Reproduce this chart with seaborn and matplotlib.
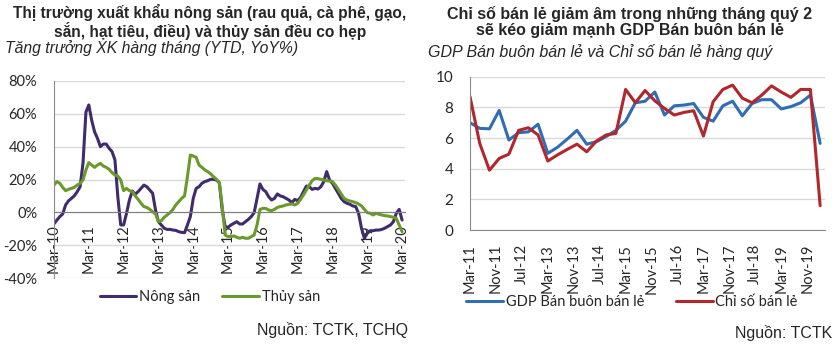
import numpy as np
import pandas as pd
import matplotlib
matplotlib.use("Agg")
import matplotlib.pyplot as plt
import seaborn as sns
from matplotlib.lines import Line2D

# ---------------- Data: left chart (monthly, Mar-10 .. Mar-20) ----------------
left_tick_labels = ["Mar-10", "Mar-11", "Mar-12", "Mar-13", "Mar-14", "Mar-15",
                    "Mar-16", "Mar-17", "Mar-18", "Mar-19", "Mar-20"]
nong_san = [
    -7, -4.7, -2.6, -1, 4.5, 7, 8.5, 10, 12.6, 15.6, 30, 61,          # Mar-10 .. Feb-11
    65.4, 56, 49, 45, 40, 41.6, 41.6, 39, 37, 32, 9.5, -7.7,          # Mar-11 .. Feb-12
    -7.7, -0.6, 7.5, 13, 11, 12.6, 14.6, 16.6, 15.6, 13.6, 11.6, 1.4, # Mar-12 .. Feb-13
    -5.7, -7.7, -9.7, -10.4, -10.4, -10.8, -11, -11.8, -12.2, -12.4, -7.7, -2.6,  # Mar-13 .. Feb-14
    8.5, 14.6, 15.6, 17.7, 18.7, 19.3, 20.1, 20.1, 19.7, 18, 1.4, -8.7,           # Mar-14 .. Feb-15
    -9.1, -7.7, -6.7, -5.7, -7.1, -7.1, -5.7, -4.3, -2.6, -0.2, 8.5, 17.3,        # Mar-15 .. Feb-16
    14, 12.6, 9.5, 7.5, 8.5, 11.2, 10, 9.5, 8.5, 7.5, 5.9, 7.9,                   # Mar-16 .. Feb-17
    7.1, 9.1, 12.6, 16, 15.6, 14, 14.6, 14.2, 15.6, 18.7, 24.8, 19.7,             # Mar-17 .. Feb-18
    17.7, 14.6, 11.6, 8.5, 6.5, 5.5, 4.9, 3.9, 3.5, -0.6, -9.7, -15.8,            # Mar-18 .. Feb-19
    -12.8, -11.2, -11.2, -10.8, -10.8, -10.4, -9.7, -8.7, -7.7, -5.7, -0.6, 1.8,  # Mar-19 .. Feb-20
    -4.7,                                                                          # Mar-20
]
thuy_san = [
    16.6, 18.7, 17.7, 15.2, 13.2, 14, 14.6, 15.2, 16.6, 17.7, 19.7, 25.8,
    30.3, 28.8, 27.4, 28.8, 29.8, 28.2, 27.4, 26.2, 24.2, 22.7, 22.1, 19.7,
    13.2, 14.6, 13.2, 12.6, 10, 7.9, 5.5, 3.5, 3, 1.8, 0.4, -1,
    -5.7, -5.1, -3, -1.6, -0.2, 1.8, 4.5, 6.5, 8.5, 10, 21.7, 34.9,
    34.3, 33.5, 28.8, 27.4, 25.8, 24.8, 23.4, 21.7, 20.1, 18, 3.5, -13.8,
    -14.8, -14.8, -14.4, -15.2, -15.8, -15.2, -15.8, -15.8, -14.8, -13.8, -7.7, 1.8,
    2.4, 2.4, 1.4, 1, 1.8, 3, 3.5, 3.9, 4.5, 4.9, 5.1, 4.5,
    5.5, 7.9, 10.6, 13.6, 16.6, 19.3, 20.7, 20.5, 20.1, 19.7, 19.3, 19.1,
    18.7, 16.6, 14, 11.2, 8.5, 7.5, 6.9, 6.5, 5.9, 5.1, 3.9, 1.8,
    -0.2, -0.6, -1.6, -0.6, -1.2, -1.6, -2, -2.2, -2.6, -3, -3.7, -7.7,
    -11.8,
]
left_series = ["Nông sản", "Thủy sản"]
left_yticks = [-40, -20, 0, 20, 40, 60, 80]

# ---------------- Data: right chart (quarterly, Mar-11 .. Mar-20) ----------------
right_tick_labels = ["Mar-11", "Nov-11", "Jul-12", "Mar-13", "Nov-13", "Jul-14", "Mar-15",
                     "Nov-15", "Jul-16", "Mar-17", "Nov-17", "Jul-18", "Mar-19", "Nov-19"]
gdp_ban_buon = [7.0, 6.63, 6.6, 7.8, 5.87, 6.35, 6.4, 6.9, 5.0, 5.4, 5.93, 6.5, 5.6,
                5.76, 6.1, 6.5, 7.1, 8.3, 8.4, 9.0, 7.5, 8.1, 8.15, 8.25, 7.35,
                7.1, 8.1, 8.4, 7.45, 8.25, 8.5, 8.5, 7.9, 8.05, 8.3, 8.8, 5.65]
chi_so_ban_le = [8.7, 5.65, 3.9, 4.67, 4.95, 6.5, 6.67, 6.2, 4.5, 4.9, 5.26, 5.6, 5.1,
                 5.8, 6.2, 6.3, 9.17, 8.3, 9.1, 8.43, 7.93, 7.5, 7.67, 7.78, 6.13,
                 8.37, 9.17, 9.45, 8.6, 8.3, 8.8, 9.4, 9.0, 8.65, 9.17, 9.17, 1.59]
right_series = ["GDP Bán buôn bán lẻ", "Chỉ số bán lẻ"]
right_yticks = [0, 2, 4, 6, 8, 10]

# ---------------- Styling ----------------
sns.set_style("white")
plt.rcParams["font.family"] = ["Liberation Sans", "DejaVu Sans"]
tick_font = ["Lato", "DejaVu Sans"]
grid_col = "#D9D9D9"
axis_col = "#8C8C8C"

left_palette = {"Nông sản": "#3F2B6E", "Thủy sản": "#6A9A2B"}
right_palette = {"GDP Bán buôn bán lẻ": "#2F6DB5", "Chỉ số bán lẻ": "#B3262B"}

df_left = pd.DataFrame({
    "month": list(range(len(nong_san))) + list(range(len(thuy_san))),
    "value": nong_san + thuy_san,
    "series": [left_series[0]] * len(nong_san) + [left_series[1]] * len(thuy_san),
})
df_right = pd.DataFrame({
    "month": [3 * i for i in range(len(gdp_ban_buon))] + [3 * i for i in range(len(chi_so_ban_le))],
    "value": gdp_ban_buon + chi_so_ban_le,
    "series": [right_series[0]] * len(gdp_ban_buon) + [right_series[1]] * len(chi_so_ban_le),
})

fig = plt.figure(figsize=(8.4, 3.5), dpi=100)
fig.patch.set_facecolor("white")

# ---------- Left axes ----------
axL = fig.add_axes([54 / 840, 1 - 278 / 350, (405 - 54) / 840, (278 - 81) / 350])
sns.lineplot(data=df_left, x="month", y="value", hue="series", palette=left_palette,
             hue_order=left_series, linewidth=2.2, ax=axL, legend=False)
for s in ["top", "right"]:
    axL.spines[s].set_visible(False)
axL.spines["bottom"].set_position(("data", 0))
axL.spines["bottom"].set_color("#7F7F7F")
axL.spines["left"].set_color(axis_col)
axL.set_xlim(0, 121)
axL.set_ylim(-40, 80)
axL.set_yticks(left_yticks)
axL.set_yticklabels([f"{v}%" for v in left_yticks], fontsize=10.5, family=tick_font)
axL.set_xticks([12 * i for i in range(len(left_tick_labels))])
axL.set_xticklabels(left_tick_labels, rotation=90, fontsize=10.5, family=tick_font)
axL.set_xlabel("")
axL.set_ylabel("")
axL.grid(axis="y", color=grid_col, linewidth=1)
axL.set_axisbelow(True)
axL.tick_params(axis="x", direction="inout", length=5, color="#7F7F7F", pad=6)
axL.tick_params(axis="y", direction="out", length=4, color=axis_col, pad=8)

# ---------- Right axes ----------
axR = fig.add_axes([470 / 840, 1 - 230 / 350, (825 - 470) / 840, (230 - 76.7) / 350])
sns.lineplot(data=df_right, x="month", y="value", hue="series", palette=right_palette,
             hue_order=right_series, linewidth=2.2, ax=axR, legend=False)
for s in ["top", "right"]:
    axR.spines[s].set_visible(False)
axR.spines["bottom"].set_color(axis_col)
axR.spines["left"].set_color(axis_col)
axR.set_xlim(0, 109.5)
axR.set_ylim(0, 10)
axR.set_yticks(right_yticks)
axR.set_yticklabels([str(v) for v in right_yticks], fontsize=11, family=tick_font)
axR.set_xticks([8 * i for i in range(len(right_tick_labels))])
axR.set_xticklabels(right_tick_labels, rotation=90, fontsize=10.5, family=tick_font)
axR.set_xlabel("")
axR.set_ylabel("")
axR.grid(axis="y", color=grid_col, linewidth=1)
axR.set_axisbelow(True)
axR.tick_params(axis="x", direction="out", length=5, color=axis_col, pad=5)
axR.tick_params(axis="y", direction="out", length=4, color=axis_col, pad=8)

# ---------- Titles ----------
fig.text(210 / 840, 1 - 4 / 350,
         "Thị trường xuất khẩu nông sản (rau quả, cà phê, gạo,\nsắn, hạt tiêu, điều) và thủy sản đều co hẹp",
         ha="center", va="top", fontsize=11.2, fontweight="bold", linespacing=1.1)
fig.text(5 / 840, 1 - 48 / 350, "Tăng trưởng XK hàng tháng (YTD, YoY%)",
         ha="left", va="center", fontsize=11.3, style="italic")
fig.text(630 / 840, 1 - 6 / 350,
         "Chỉ số bán lẻ giảm âm trong những tháng quý 2\nsẽ kéo giảm mạnh GDP Bán buôn bán lẻ",
         ha="center", va="top", fontsize=11.5, fontweight="bold", linespacing=1.1)
fig.text(428 / 840, 1 - 52 / 350, "GDP Bán buôn bán lẻ và Chỉ số bán lẻ hàng quý",
         ha="left", va="center", fontsize=11.5, style="italic")

# ---------- Legends ----------
hL = [Line2D([0], [0], color=left_palette[s], lw=2.2) for s in left_series]
fig.legend(hL, left_series, loc="center", bbox_to_anchor=(210 / 840, 1 - 297 / 350),
           ncol=2, frameon=False, handlelength=2.5, handletextpad=0.2, columnspacing=1.5,
           prop={"family": tick_font, "size": 10.5})
hR = [Line2D([0], [0], color=right_palette[s], lw=2.2) for s in right_series]
fig.legend(hR, right_series, loc="center", bbox_to_anchor=(632 / 840, 1 - 302 / 350),
           ncol=2, frameon=False, handlelength=2.5, handletextpad=0.2, columnspacing=2.2,
           prop={"family": tick_font, "size": 10.5})

# ---------- Sources ----------
fig.text(408 / 840, 1 - 330 / 350, "Nguồn: TCTK, TCHQ", ha="right", va="center", fontsize=11.5)
fig.text(832 / 840, 1 - 333 / 350, "Nguồn: TCTK", ha="right", va="center", fontsize=11.5)

fig.savefig("out.png", dpi=100, facecolor="white")
